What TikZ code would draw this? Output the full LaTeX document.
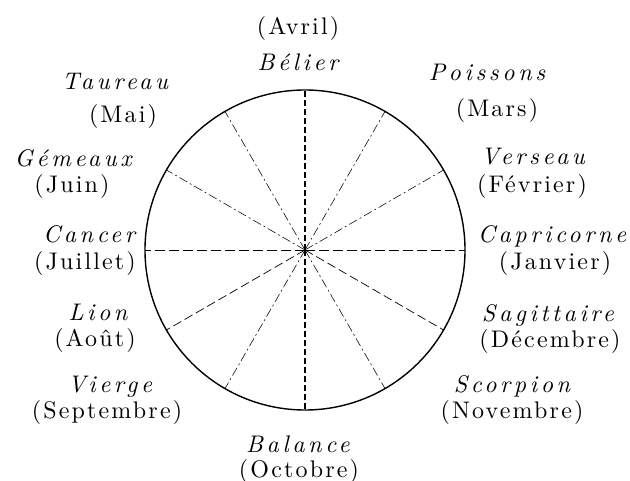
\documentclass[tikz,border=0pt]{standalone}
\usepackage{fontspec}
\usetikzlibrary{calc}
\newfontfamily\lmsign{lmroman10-italic.otf}[LetterSpace=15]
\newfontfamily\lmmonth{lmroman10-regular.otf}[LetterSpace=9]
\begin{document}
\begin{tikzpicture}[x=1pt,y=-1pt,
  sign/.style={anchor=base,inner sep=0pt,font=\lmsign\fontsize{24}{28}\selectfont},
  month/.style={anchor=base,inner sep=0pt,font=\lmmonth\fontsize{24}{28}\selectfont},
  rim/.style={line width=1.4pt},
  axisv/.style={line width=1.5pt,dash pattern=on 6pt off 3pt},
  axish/.style={line width=0.9pt,dash pattern=on 10pt off 4pt},
  ray/.style={line width=0.55pt,dash pattern=on 9pt off 3pt on 2pt off 3pt},
  rayd/.style={line width=0.7pt,dash pattern=on 9pt off 4pt}]
\useasboundingbox (0,0) rectangle (630,481);
\fill[white] (0,0) rectangle (630,481);
\coordinate (O) at (305,250);
\foreach \i in {0,...,11} {\coordinate (p\i) at ($(O)+({30*\i}:160pt)$);}
\draw[rim] (O) circle[radius=160];
\draw[axisv] (O) -- (p3);
\draw[axisv] (O) -- (p9);
\draw[axish] (O) -- (p0);
\draw[axish] (O) -- (p6);
\draw[ray] (O) -- (p1);
\draw[ray] (O) -- (p2);
\draw[ray] (O) -- (p4);
\draw[ray] (O) -- (p5);
\draw[rayd] (O) -- (p7);
\draw[ray] (O) -- (p8);
\draw[ray] (O) -- (p10);
\draw[rayd] (O) -- (p11);
% top
\node[month] (avril) at (298,35) {(Avril)};
\node[sign] (belier) at (298,71) {Bélier};
\node[sign] (taureau) at (115,90) {Taureau};
\node[month] (mai) at (123,123) {(Mai)};
\node[sign] (poissons) at (487,81) {Poissons};
\node[month] (mars) at (497,117) {(Mars)};
% left
\node[sign] (gemeaux) at (73,167) {Gémeaux};
\node[month] (juin) at (72,193) {(Juin)};
\node[sign] (cancer) at (89,243) {Cancer};
\node[month] (juillet) at (85,270) {(Juillet)};
\node[sign] (lion) at (98,321) {Lion};
\node[month] (aout) at (95,347) {(Août)};
\node[sign] (vierge) at (110,393) {Vierge};
\node[month] (septembre) at (107,418) {(Septembre)};
% right
\node[sign] (verseau) at (533,165) {Verseau};
\node[month] (fevrier) at (532,193) {(Février)};
\node[sign] (capricorne) at (552,243) {Capricorne};
\node[month] (janvier) at (555,270) {(Janvier)};
\node[sign] (sagittaire) at (548,322) {Sagittaire};
\node[month] (decembre) at (550,348) {(Décembre)};
\node[sign] (scorpion) at (512,392) {Scorpion};
\node[month] (novembre) at (512,418) {(Novembre)};
% bottom
\node[sign] (balance) at (298,452) {Balance};
\node[month] (octobre) at (299,477) {(Octobre)};
\end{tikzpicture}
\end{document}
